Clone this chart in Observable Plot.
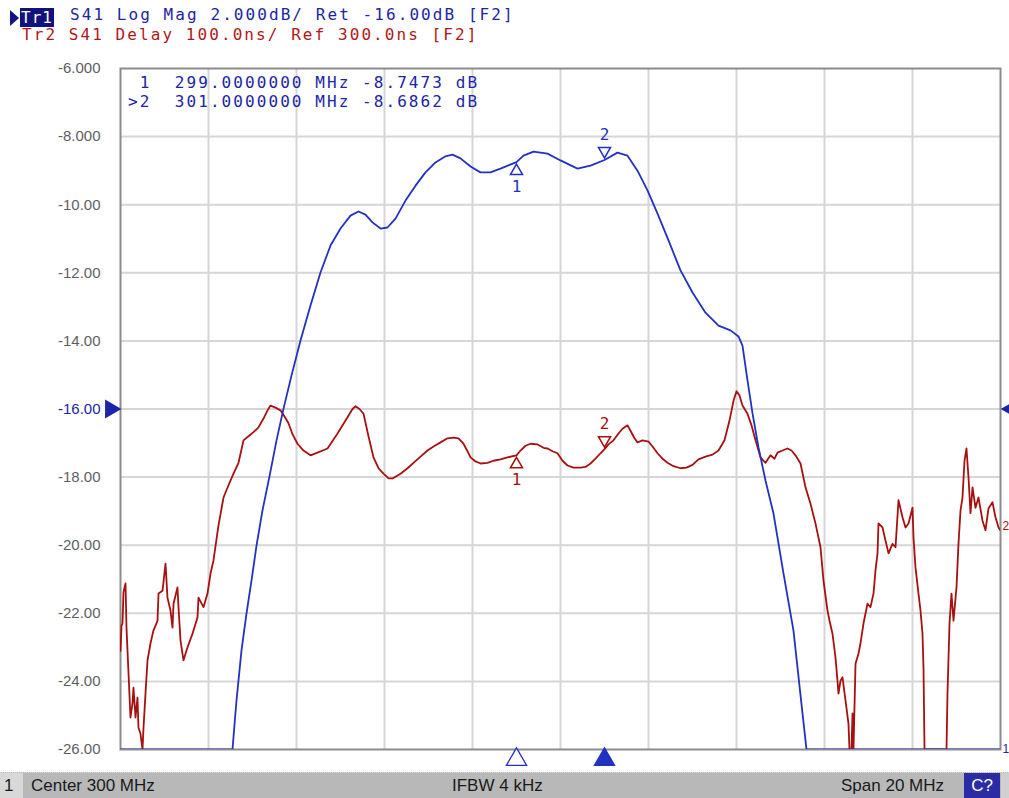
<!DOCTYPE html>
<html><head><meta charset="utf-8">
<script src="https://cdn.jsdelivr.net/npm/d3@7"></script>
<script src="https://cdn.jsdelivr.net/npm/@observablehq/plot@0.6"></script>
<style>
body{margin:0;background:#fff;width:1009px;height:798px;overflow:hidden;position:relative;font-family:"Liberation Sans",sans-serif}
#chart{position:absolute;left:0;top:0}
.mono{position:absolute;font-family:"DejaVu Sans Mono",monospace;font-size:16px;letter-spacing:2.07px;white-space:pre;line-height:20px}
.blueT{color:#1c24a8}
.redT{color:#b01818}
#tri{position:absolute;left:10px;top:10px;width:0;height:0;border-top:8px solid transparent;border-bottom:8px solid transparent;border-left:9px solid #12127e}
#status{position:absolute;left:0;top:772px;width:1009px;height:26px;background:#b8b8b8;border-top:1px dotted #d8d8d8;box-sizing:border-box;font-family:"Liberation Sans",sans-serif;font-size:17px;color:#1a1a1a}
#status div{position:absolute;top:0;height:25px;line-height:25px;white-space:pre}
</style></head><body>
<div id="chart"></div>

<div id="tri"></div>
<div class="mono" style="left:20px;top:8px;background:#12127e;color:#fff;letter-spacing:1px;padding:0 1px;line-height:19px">Tr1</div>
<div class="mono blueT" style="left:70px;top:5px">S41 Log Mag 2.000dB/ Ret -16.00dB [F2]</div>
<div class="mono redT" style="left:22px;top:25px">Tr2 S41 Delay 100.0ns/ Ref 300.0ns [F2]</div>

<div class="mono blueT" style="left:128px;top:73px"> 1  299.0000000 MHz -8.7473 dB</div>
<div class="mono blueT" style="left:128px;top:92px">&gt;2  301.0000000 MHz -8.6862 dB</div>

<div id="status">
  <div style="left:0;width:23px;background:#d8d8d8;padding-left:4px;box-sizing:border-box">1</div>
  <div style="left:31px">Center 300 MHz</div>
  <div style="left:452px">IFBW 4 kHz</div>
  <div style="left:841px">Span 20 MHz</div>
  <div style="left:964px;width:36px;background:#2b2ba6;color:#fff;text-align:center">C?</div>
  <div style="left:1001px;width:8px;background:#d0d0d0"></div>
</div>

<script>
// S41 Log Mag trace: [frequency MHz, dB]
const magTrace = [
[290,-26],[292.545,-26],[292.636,-24.56],[292.75,-23.09],[292.864,-22.0],[292.977,-21.04],[293.091,-20.01],[293.227,-18.98],[293.386,-17.98],[293.545,-16.93],[293.705,-15.99],[293.886,-15.02],[294.091,-13.99],[294.318,-12.96],[294.545,-11.99],[294.773,-11.20],[295.0,-10.70],[295.227,-10.32],[295.409,-10.20],[295.568,-10.29],[295.727,-10.52],[295.909,-10.70],[296.068,-10.67],[296.25,-10.41],[296.477,-9.88],[296.705,-9.44],[296.932,-9.05],[297.159,-8.76],[297.386,-8.58],[297.545,-8.53],[297.727,-8.64],[297.955,-8.88],[298.182,-9.05],[298.409,-9.05],[298.636,-8.94],[299.0,-8.7473],[299.159,-8.56],[299.386,-8.44],[299.705,-8.50],[300.0,-8.70],[300.386,-8.94],[300.682,-8.85],[301.0,-8.6862],[301.295,-8.47],[301.523,-8.56],[301.75,-9.00],[301.977,-9.58],[302.205,-10.26],[302.455,-11.05],[302.727,-11.93],[303.0,-12.58],[303.295,-13.17],[303.591,-13.55],[303.864,-13.69],[304.045,-13.87],[304.136,-14.14],[304.25,-15.16],[304.364,-16.13],[304.5,-17.13],[304.659,-18.10],[304.841,-19.07],[305.068,-20.83],[305.295,-22.51],[305.5,-24.94],[305.591,-26],[310,-26]
];
// S41 Delay trace: [frequency MHz, ns]
const delayTrace = [
[290.000,-55],[290.023,-18],[290.045,-15],[290.068,31],[290.114,44],[290.136,-21],[290.182,-88],[290.227,-153],[290.273,-132],[290.295,-109],[290.341,-153],[290.386,-124],[290.409,-168],[290.455,-177],[290.500,-200],[290.523,-168],[290.568,-118],[290.614,-69],[290.682,-44],[290.750,-25],[290.841,-11],[290.864,29],[290.955,33],[291.023,73],[291.068,23],[291.136,4],[291.182,-21],[291.205,14],[291.295,38],[291.318,9],[291.364,-40],[291.432,-69],[291.523,-50],[291.636,-30],[291.750,-6],[291.773,23],[291.886,9],[291.977,29],[292.045,58],[292.114,78],[292.227,129],[292.341,170],[292.455,188],[292.568,205],[292.682,221],[292.795,254],[292.909,260],[293.023,266],[293.136,273],[293.250,286],[293.341,298],[293.409,305],[293.523,302],[293.636,298],[293.727,289],[293.818,279],[293.909,263],[294.023,249],[294.159,239],[294.318,232],[294.477,236],[294.705,242],[294.932,264],[295.159,288],[295.273,300],[295.341,304],[295.432,300],[295.523,293],[295.636,260],[295.750,229],[295.864,213],[295.977,205],[296.091,198],[296.182,198],[296.364,205],[296.523,213],[296.659,221],[296.818,230],[296.977,239],[297.114,245],[297.273,251],[297.432,257],[297.568,258],[297.682,257],[297.795,249],[297.886,238],[297.955,229],[298.068,223],[298.182,220],[298.341,221],[298.477,224],[298.636,226],[298.795,229],[299.000,232],[299.091,239],[299.205,246],[299.318,249],[299.477,248],[299.614,243],[299.705,242],[299.818,238],[299.932,235],[300.045,224],[300.159,217],[300.295,214],[300.455,214],[300.568,215],[300.682,220],[300.795,227],[300.909,235],[301.000,241],[301.091,248],[301.205,254],[301.318,264],[301.409,271],[301.523,276],[301.591,268],[301.682,257],[301.750,251],[301.864,254],[302.000,252],[302.091,245],[302.205,235],[302.318,227],[302.432,221],[302.568,216],[302.727,213],[302.864,214],[303.000,218],[303.136,226],[303.295,230],[303.455,233],[303.591,239],[303.727,254],[303.841,283],[303.932,312],[304.000,326],[304.068,320],[304.136,305],[304.250,293],[304.341,276],[304.432,254],[304.545,229],[304.659,221],[304.773,232],[304.864,227],[304.932,236],[305.045,239],[305.159,242],[305.250,239],[305.341,232],[305.455,220],[305.568,185],[305.682,161],[305.795,132],[305.909,97],[305.977,48],[306.068,4],[306.114,-11],[306.182,-30],[306.250,-65],[306.295,-99],[306.318,-118],[306.364,-99],[306.409,-94],[306.477,-128],[306.545,-162],[306.568,-200],[306.614,-200],[306.636,-147],[306.659,-200],[306.705,-74],[306.773,-59],[306.818,-44],[306.886,-15],[306.977,14],[307.045,9],[307.114,29],[307.159,63],[307.205,88],[307.227,132],[307.318,126],[307.386,107],[307.455,88],[307.545,102],[307.614,97],[307.682,166],[307.773,141],[307.841,126],[307.909,132],[308.000,155],[308.023,111],[308.068,67],[308.136,29],[308.182,4],[308.227,-30],[308.250,-80],[308.273,-200],[308.773,-200],[308.795,-118],[308.841,-15],[308.886,29],[308.932,-11],[309.000,38],[309.045,102],[309.091,151],[309.136,170],[309.182,224],[309.227,242],[309.273,199],[309.318,147],[309.364,185],[309.432,155],[309.500,170],[309.591,136],[309.659,122],[309.727,154],[309.818,163],[309.886,141],[309.955,126],[310.000,122]
];
// markers: [id, frequency MHz, magnitude dB, delay ns]
const markers = [[1, 299, -8.7473, 232], [2, 301, -8.6862, 241]];
const activeMarker = 2;
const xGridTicks = [292, 294, 296, 298, 300, 302, 304, 306, 308];
const yTicks = [-6, -8, -10, -12, -14, -16, -18, -20, -22, -24, -26];
// delay scale: 100 ns/div (2 dB/div on screen), reference 300 ns at reference position -16 dB
const refLevelDb = -16, refDelayNs = 300, nsPerDiv = 100, dbPerDiv = 2;

const BLUE = "#2232c0", BLUE_TXT = "#1c24a8", RED = "#a81010";
const toScreen = ns => refLevelDb + (ns - refDelayNs) / nsPerDiv * dbPerDiv;
const fmt = v => d3.format(".4r")(v).replace("\u2212", "-");

const mag = magTrace.map(([f, v]) => ({f, v}));
const del = delayTrace.map(([f, ns]) => ({f, ns}));
const mk = markers.map(([id, f, db, ns]) => ({id, f, db, ns, label: String(id)}));
const mkBelow = mk.filter(d => d.id === 1);   // symbol under the trace, pointing up
const mkAbove = mk.filter(d => d.id === 2);   // symbol over the trace, pointing down

function markerMarks(yAcc, color) {
  return [
    Plot.dot(mkBelow, {x: "f", y: yAcc, symbol: "triangle", r: 4.5, dy: 9, fill: "white", stroke: color, strokeWidth: 1.5}),
    Plot.text(mkBelow, {x: "f", y: yAcc, text: "label", dy: 25, fill: color, fontSize: 16, fontFamily: "DejaVu Sans Mono"}),
    Plot.dot(mkAbove, {x: "f", y: yAcc, symbol: "triangle", rotate: 180, r: 4.5, dy: -9, fill: "white", stroke: color, strokeWidth: 1.5}),
    Plot.text(mkAbove, {x: "f", y: yAcc, text: "label", dy: -25, fill: color, fontSize: 16, fontFamily: "DejaVu Sans Mono"})
  ];
}

const chart = Plot.plot({
  width: 1009, height: 772,
  marginTop: 68, marginBottom: 23, marginLeft: 120, marginRight: 9,
  x: {domain: [290, 310], axis: null},
  y: {domain: [-26, -6], label: null},
  style: {fontFamily: "Liberation Sans, sans-serif", fontSize: "15px", background: "white", overflow: "visible"},
  marks: [
    Plot.gridX(xGridTicks, {stroke: "#d6d6d6", strokeOpacity: 1, strokeWidth: 2}),
    Plot.gridY(yTicks.slice(1, -1), {stroke: "#d6d6d6", strokeOpacity: 1, strokeWidth: 2}),
    Plot.frame({stroke: "#8c8c8c", strokeWidth: 2}),
    Plot.axisY(yTicks.filter(v => v !== refLevelDb), {tickSize: 0, tickPadding: 20, tickFormat: fmt, fill: "#5e5e5e", label: null}),
    Plot.axisY([refLevelDb], {tickSize: 0, tickPadding: 20, tickFormat: fmt, fill: BLUE_TXT, label: null}),
    // reference-level arrows
    Plot.dot([refLevelDb], {y: d => d, frameAnchor: "left", symbol: "triangle", rotate: 90, r: 7, fill: BLUE_TXT, dx: -10}),
    Plot.dot([refLevelDb], {y: d => d, frameAnchor: "right", symbol: "triangle", rotate: -90, r: 7, fill: BLUE_TXT, dx: 11}),
    // traces
    Plot.line(del, {x: "f", y: d => Math.max(-26, toScreen(d.ns)), stroke: RED, strokeWidth: 1.8, clip: true}),
    Plot.line(mag, {x: "f", y: "v", stroke: BLUE, strokeWidth: 1.8, clip: true}),
    // trace end labels
    Plot.text([mag[mag.length - 1]], {x: "f", y: "v", text: () => "1", fill: BLUE_TXT, dx: 2, textAnchor: "start", fontSize: 12}),
    Plot.text([del[del.length - 1]], {x: "f", y: d => toScreen(d.ns), text: () => "2", fill: RED, dx: 2, dy: -4, textAnchor: "start", fontSize: 12}),
    // markers on both traces
    ...markerMarks("db", BLUE),
    ...markerMarks(d => toScreen(d.ns), RED),
    // bottom stimulus markers
    Plot.dot(mk, {x: "f", frameAnchor: "bottom", symbol: "triangle", r: 7.5, dy: 10, stroke: BLUE, strokeWidth: 1.3, fill: d => d.id === activeMarker ? BLUE : "white"})
  ]
});
document.getElementById("chart").append(chart);
</script>
</body></html>
